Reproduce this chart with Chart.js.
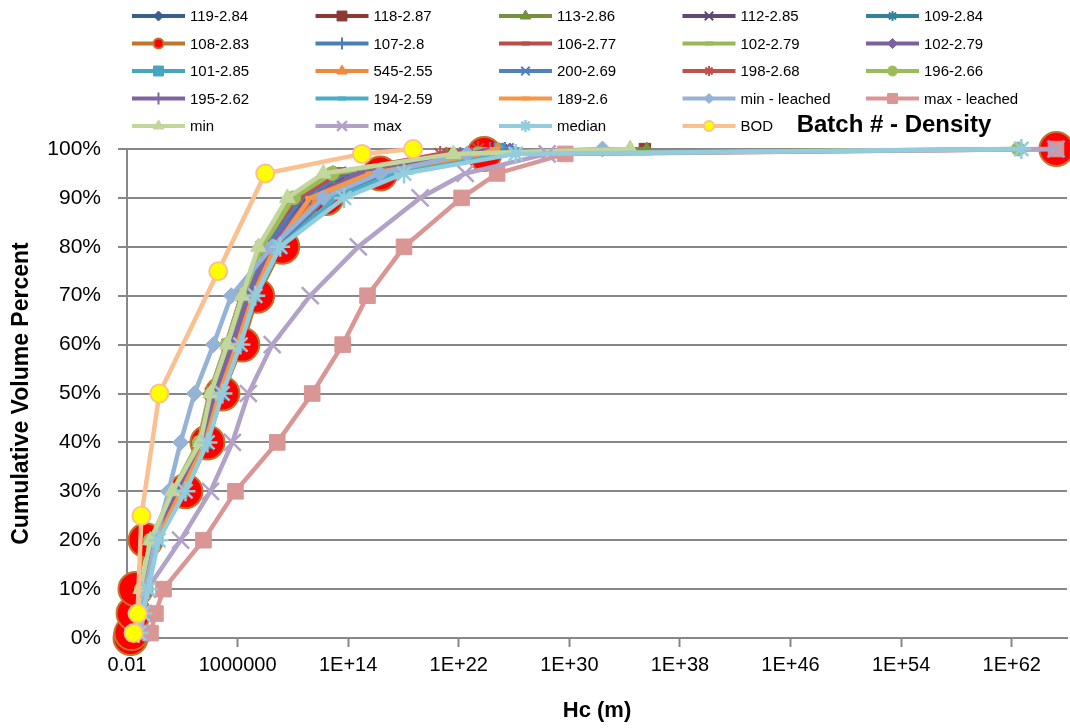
<!DOCTYPE html>
<html><head><meta charset="utf-8">
<script src="https://cdn.jsdelivr.net/npm/chart.js@4.4.1/dist/chart.umd.min.js"></script>
<style>html,body{margin:0;padding:0;background:#fff;overflow:hidden}#wrap{width:1070px;height:728px;position:relative}canvas{display:block}</style>
</head><body><div id="wrap"><canvas id="c"></canvas></div>
<script>
// ---- data ----
const cumPct    = [1,5,10,20,30,40,50,60,70,80,90,95,99,100];
const cumPct108 = [0,1,5,10,20,30,40,50,60,70,80,90,95,99,100];
const cumPctBOD = [1,5,25,50,75,95,99,100];

const hc119 = [0.041,0.079,0.155,0.81,45,2.9e3,2.1e4,3.5e5,5.1e6,1.2e8,8e10,1.4e14,6.6e22,2.2e25];
const hc118 = [0.035,0.068,0.13,0.69,32,2e3,1.5e4,2.6e5,3.6e6,8.7e7,3.5e10,2.7e13,2.3e21,2.9e35];
const hc113 = [0.03,0.058,0.11,0.6,22,2e3,1.3e4,2.2e5,2.6e6,6.2e7,1.5e10,1.2e13,1.3e21,4e35];
const hc112 = [0.041,0.079,0.18,0.98,52,3.4e3,2.5e4,5e5,6e6,1.7e8,1.3e11,7.4e14,3.5e23,9.5e24];
const hc109 = [0.049,0.095,0.22,1.15,74,4e3,3.5e4,6.9e5,8.3e6,3.2e8,4.2e11,4e15,1.8e24,2.2e25];
const hc108 = [0.018,0.021,0.03,0.041,0.22,170,6.6e3,8e4,2.2e6,2.6e7,1.7e9,2.6e12,2.1e16,7e23,1.7e65];
const hc107 = [0.035,0.068,0.155,0.81,38,2.4e3,1.8e4,3e5,4.3e6,1e8,4.8e10,6.2e13,1.3e22,4.2e24];
const hc106 = [0.041,0.079,0.13,0.6,27,1.7e3,1.1e4,1.5e5,1.9e6,4.5e7,2.1e10,1.9e13,5.4e21,1.8e24];
const hc102a = [0.03,0.058,0.11,0.5,20,1.5e3,9e3,1.5e5,1.9e6,3.7e7,9e9,5e12,1.7e21,8e23];
const hc102b = [0.041,0.095,0.18,0.98,52,3.4e3,3e4,5e5,7e6,2.3e8,2.5e11,1e15,1.6e23,5e25];
const hc101 = [0.049,0.095,0.22,1.35,87,4.7e3,4.8e4,9.5e5,1.4e7,6.3e8,9.5e11,9e15,1.3e24,9.5e24];
const hc545 = [0.041,0.079,0.18,1.15,74,4.7e3,4e4,8.1e5,1.2e7,5.4e8,7e11,5.5e15,4.9e23,6.9e24];
const hc200 = [0.049,0.11,0.26,1.6,100,5.5e3,5.8e4,1.1e6,1.6e7,9e8,2.2e12,4.8e16,4.2e24,3.6e25];
const hc198 = [0.035,0.068,0.13,0.6,27,1.7e3,1.1e4,1.8e5,2.2e6,5.2e7,1.8e10,8.3e12,4.5e20,2.5e23];
const hc196 = [0.035,0.058,0.11,0.5,22,1.7e3,1.3e4,1.8e5,2.6e6,6.2e7,1.1e10,7e12,2.5e23,3e62];
const hc195 = [0.041,0.079,0.155,0.81,45,2.9e3,2.5e4,4.2e5,6e6,2e8,1.8e11,5.4e14,9e22,1.8e24];
const hc194 = [0.049,0.11,0.26,1.6,120,5.5e3,6.8e4,1.3e6,2.3e7,1.2e9,1.2e13,2.5e17,2.2e25,1.1e26];
const hc189 = [0.041,0.095,0.22,1.35,87,4.7e3,4.8e4,9.5e5,1.4e7,5.4e8,1.8e11,4e15,4.9e23,4.2e24];
const hcMinLeached = [0.049,0.095,0.22,1.15,10,75,760,1.8e4,3.5e5,3.2e8,1.6e12,2e16,4e22,2.5e32];
const hcMaxLeached = [0.5,1.15,4.4,3.4e3,7e5,7.4e8,2.5e11,4e13,2.5e15,1.1e18,1.6e22,6e24,5e29,1.6e65];
const hcMin = [0.035,0.058,0.095,0.5,20,2e3,1.1e4,1.8e5,2.2e6,3.2e7,4e9,1.6e12,4e21,2.5e34];
const hcMax = [0.1,0.16,0.3,75,1.1e4,4.2e5,6e6,3.2e8,1.8e11,5.4e14,1.6e19,2.9e22,2.5e28,1.6e65];
const hcMedian = [0.068,0.13,0.35,1.9,170,6.6e3,8e4,1.6e6,1.9e7,1.2e9,5e13,1.1e18,1.3e26,5e62];
const hcBOD = [0.03,0.058,0.11,2.2,4e4,1e8,1e15,5e18];

const seriesNames = ['119-2.84','118-2.87','113-2.86','112-2.85','109-2.84',
  '108-2.83','107-2.8','106-2.77','102-2.79','102-2.79',
  '101-2.85','545-2.55','200-2.69','198-2.68','196-2.66',
  '195-2.62','194-2.59','189-2.6','min - leached','max - leached',
  'min','max','median','BOD'];
const seriesX = [hc119,hc118,hc113,hc112,hc109,hc108,hc107,hc106,hc102a,hc102b,hc101,hc545,hc200,hc198,hc196,hc195,hc194,hc189,hcMinLeached,hcMaxLeached,hcMin,hcMax,hcMedian,hcBOD];
const seriesY = [cumPct,cumPct,cumPct,cumPct,cumPct,cumPct108,cumPct,cumPct,cumPct,cumPct,cumPct,cumPct,cumPct,cumPct,cumPct,cumPct,cumPct,cumPct,cumPct,cumPct,cumPct,cumPct,cumPct,cumPctBOD];

const xTickValues = [1e-2,1e6,1e14,1e22,1e30,1e38,1e46,1e54,1e62];
const xTickLabels = ['0.01','1000000','1E+14','1E+22','1E+30','1E+38','1E+46','1E+54','1E+62'];
const chartTitle = 'Batch # - Density';
const xTitle = 'Hc (m)';
const yTitle = 'Cumulative Volume Percent';

// ---- styles ----
const styles = [
  {c:'#3A5F8F',m:'rectRot',r:6,lr:5},
  {c:'#8E3836',m:'rect',r:8,lr:7},
  {c:'#75913D',m:'triangle',r:7,lr:6},
  {c:'#5E4877',m:'crossRot',r:7,lr:6,bw:2},
  {c:'#33829A',m:'star',r:7,lr:5,bw:2},
  {c:'#C0752F',m:'circle',r:17,lr:5,fill:'#FF0000',bw:2},
  {c:'#4A7EBB',m:'cross',r:7,lr:6,bw:2},
  {c:'#BE4B48',m:'line',r:5,lr:4,bw:4},
  {c:'#98B954',m:'line',r:5,lr:4,bw:4},
  {c:'#7D60A0',m:'rectRot',r:6,lr:5},
  {c:'#46A5BF',m:'rect',r:8,lr:7},
  {c:'#F0883E',m:'triangle',r:7,lr:6},
  {c:'#4F81BD',m:'crossRot',r:8,lr:6,bw:2},
  {c:'#C0504D',m:'star',r:8,lr:5,bw:2},
  {c:'#9BBB59',m:'circle',r:7,lr:5},
  {c:'#8064A2',m:'cross',r:7,lr:6,bw:2},
  {c:'#4BACC6',m:'line',r:5,lr:4,bw:4},
  {c:'#F79646',m:'line',r:5,lr:4,bw:4},
  {c:'#95B3D7',m:'rectRot',r:8,lr:5},
  {c:'#D99694',m:'rect',r:11,lr:7},
  {c:'#C3D69B',m:'triangle',r:9,lr:6},
  {c:'#B3A2C7',m:'crossRot',r:12,lr:7,bw:2.5},
  {c:'#93CDDD',m:'star',r:10,lr:6,bw:2.5},
  {c:'#FAC090',m:'circle',r:9,lr:5,fill:'#FFFF00',bw:2}
];

const FONT = '"Liberation Sans", Arial, sans-serif';
const N = seriesNames.length;
const datasets = seriesNames.map((name,i)=>{
  const s = styles[i];
  return {
    label: name,
    data: seriesX[i].map((x,j)=>({x:x,y:seriesY[i][j]})),
    borderColor: s.c,
    backgroundColor: s.c,
    borderWidth: 4.5,
    pointStyle: s.m,
    pointRadius: s.r,
    pointHoverRadius: s.r,
    pointBackgroundColor: s.fill || s.c,
    pointBorderColor: s.c,
    pointBorderWidth: s.bw || 1,
    tension: 0,
    clip: false,
    order: N - i
  };
});

const overlay = {
  id:'overlay',
  afterDraw(chart){
    const ctx = chart.ctx;
    ctx.save();
    seriesNames.forEach((name,i)=>{
      const s = styles[i];
      const col = i%5, row = Math.floor(i/5);
      const x0 = 132 + col*183.5, y = 16 + row*27.5;
      ctx.strokeStyle = s.c; ctx.lineWidth = 4; ctx.lineCap = 'butt';
      ctx.beginPath(); ctx.moveTo(x0,y); ctx.lineTo(x0+53,y); ctx.stroke();
      ctx.fillStyle = s.fill || s.c; ctx.strokeStyle = s.c;
      const bw = s.m==='line'?4:(s.bw||1);
      ctx.lineWidth = bw;
      Chart.helpers.drawPoint(ctx,{pointStyle:s.m,radius:s.lr,rotation:0,borderWidth:bw},x0+26.5,y);
      ctx.fillStyle = '#000'; ctx.font = '15px ' + FONT;
      ctx.textBaseline = 'middle'; ctx.textAlign = 'left';
      ctx.fillText(name, x0+58, y+1);
    });
    ctx.font = 'bold 24px ' + FONT; ctx.textAlign = 'center'; ctx.textBaseline='middle';
    ctx.fillStyle = '#000';
    ctx.fillText(chartTitle, 894, 125);
    ctx.restore();
  }
};

new Chart(document.getElementById('c'), {
  type: 'line',
  data: { datasets },
  options: {
    responsive: true, maintainAspectRatio: false, animation: false,
    layout: { autoPadding: false, padding: { top: 149, right: 3, left: 0, bottom: 0 } },
    plugins: { legend: { display: false }, tooltip: { enabled: false } },
    scales: {
      x: {
        type: 'logarithmic', min: 1e-2, max: 1e66,
        afterBuildTicks(scale){ scale.ticks = xTickValues.map(v=>({value:v})); },
        afterFit(scale){ scale.height = 90; scale.paddingRight = 0; scale.paddingLeft = 0; },
        ticks: { autoSkip:false, maxRotation:0, padding:6, color:'#000',
                 font:{family:FONT,size:20},
                 callback:(v,i)=>xTickLabels[i] },
        grid: { drawOnChartArea:false, drawTicks:true, tickLength:9, tickWidth:2, tickColor:'#878787' },
        border: { color:'#878787', width:2 },
        title: { display:true, text:xTitle, color:'#000', font:{family:FONT,size:22,weight:'bold'}, padding:{top:0,bottom:4} }
      },
      y: {
        type: 'linear', min: 0, max: 100,
        afterFit(scale){ scale.width = 127; },
        ticks: { stepSize:10, padding:17, color:'#000', font:{family:FONT,size:21},
                 callback:v=>v+'%' },
        grid: { color:'#878787', lineWidth:2, drawTicks:true, tickLength:9, tickColor:'#878787' },
        border: { color:'#878787', width:2 },
        title: { display:true, text:yTitle, color:'#000', font:{family:FONT,size:23,weight:'bold'}, padding:{top:8,bottom:0} }
      }
    }
  },
  plugins: [overlay]
});
</script></body></html>
